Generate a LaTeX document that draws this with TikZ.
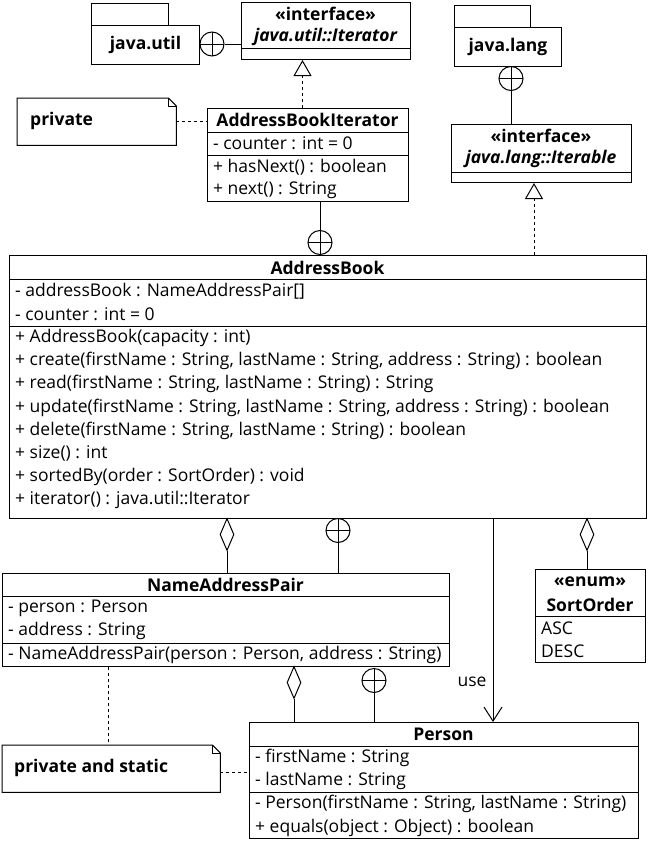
\documentclass[tikz,border=0pt]{standalone}
\usepackage{fontspec}
\setmainfont{Open Sans}
\usetikzlibrary{shapes.geometric, arrows.meta}

\tikzstyle{classbox} = [draw=black, line width=1pt, inner sep=0pt, anchor=north west]
\tikzstyle{member} = [anchor=west, inner sep=0pt, font=\fontsize{17.5}{20}\selectfont]
\tikzstyle{title} = [inner sep=0pt, font=\fontsize{17.5}{20}\selectfont\bfseries]
\tikzstyle{ititle} = [inner sep=0pt, font=\fontsize{17.5}{20}\selectfont\bfseries\itshape]
\tikzstyle{line} = [line width=1pt]
\tikzstyle{nest} = [circle, draw, line width=1pt, fill=white, inner sep=0pt,
                    minimum size=24pt,
                    path picture={\draw[line width=1pt]
                      (path picture bounding box.north) -- (path picture bounding box.south)
                      (path picture bounding box.west) -- (path picture bounding box.east);}]
\tikzstyle{aggr} = [diamond, draw, line width=1pt, fill=white, inner sep=0pt,
                    minimum width=14pt, minimum height=32pt, anchor=north]
\tikzstyle{realize} = [line width=1pt, dashed, -{Triangle[open, length=16pt, width=18pt]}]
\tikzstyle{use} = [line width=1pt, -{Straight Barb[length=14pt, width=18pt]}]
\tikzstyle{notebox} = [inner sep=0pt, anchor=north west]

\begin{document}
\begin{tikzpicture}[x=1pt, y=-1pt]
    \useasboundingbox (0,0) rectangle (648,841);

    %java.util package
    \node (util-tab) [classbox, minimum width=77pt, minimum height=22pt] at (91,3) {};
    \node (util) [classbox, minimum width=108pt, minimum height=39pt] at (91,25) {};
    \node (util-t) [title] at (util.center) {java.util};

    %Iterator interface
    \node (itr) [classbox, minimum width=169pt, minimum height=57pt] at (241,2) {};
    \node (itr-s) [title] at (325.5,14) {«interface»};
    \node (itr-t) [ititle] at (325.5,37) {java.util::Iterator};
    \draw [line] (241,48) -- (410,48);

    \node (nest1) [nest] at (212,44) {};
    \draw [line] (nest1.east) -- (itr.west |- nest1.east);

    %note private
    \node (note1) [notebox, minimum width=159pt, minimum height=47pt] at (17,98) {};
    \draw [line] (note1.north west) -- ([xshift=-8pt]note1.north east) -- ([yshift=-8pt]note1.north east)
        -- (note1.south east) -- (note1.south west) -- cycle;
    \draw [line] ([xshift=-8pt]note1.north east) -- ([xshift=-8pt, yshift=-8pt]note1.north east)
        -- ([yshift=-8pt]note1.north east);
    \node (note1-t) [title, anchor=west] at (30,121) {private};

    %AddressBookIterator
    \node (iter) [classbox, minimum width=201pt, minimum height=93pt] at (207,108) {};
    \node (iter-t) [title] at (307.5,120) {AddressBookIterator};
    \draw [line] (207,132) -- (408,132);
    \draw [line] (207,155) -- (408,155);
    \node (iter-a1) [member] at (213,143) {- counter : int = 0};
    \node (iter-m1) [member] at (213,167) {+ hasNext() : boolean};
    \node (iter-m2) [member] at (213,190) {+ next() : String};

    \draw [line, dashed] (note1.east |- 0,121) -- (iter.west |- 0,121);
    \draw [realize] ([xshift=-5.5pt]iter.north) -- ([xshift=-5.5pt]iter.north |- itr.south);

    %java.lang package
    \node (lang-tab) [classbox, minimum width=76pt, minimum height=22pt] at (454,5) {};
    \node (lang) [classbox, minimum width=107pt, minimum height=39pt] at (454,27) {};
    \node (lang-t) [title] at (lang.center) {java.lang};

    %Iterable interface
    \node (itb) [classbox, minimum width=180pt, minimum height=58pt] at (451,124) {};
    \node (itb-s) [title] at (541,136) {«interface»};
    \node (itb-t) [ititle] at (541,159) {java.lang::Iterable};
    \draw [line] (451,172) -- (631,172);

    \node (nest3) [nest, anchor=north] at (511,66) {};
    \draw [line] (nest3.south) -- (nest3.south |- itb.north);

    %AddressBook
    \node (book) [classbox, minimum width=637pt, minimum height=263pt] at (9,255) {};
    \node (book-t) [title] at (327.5,268) {AddressBook};
    \draw [line] (9,279) -- (646,279);
    \draw [line] (9,326) -- (646,326);
    \node (book-a1) [member] at (15,291) {- addressBook : NameAddressPair[]};
    \node (book-a2) [member] at (15,314) {- counter : int = 0};
    \node (book-m1) [member] at (15,338) {+ AddressBook(capacity : int)};
    \node (book-m2) [member] at (15,361) {+ create(firstName : String, lastName : String, address : String) : boolean};
    \node (book-m3) [member] at (15,384) {+ read(firstName : String, lastName : String) : String};
    \node (book-m4) [member] at (15,408) {+ update(firstName : String, lastName : String, address : String) : boolean};
    \node (book-m5) [member] at (15,431) {+ delete(firstName : String, lastName : String) : boolean};
    \node (book-m6) [member] at (15,453) {+ size() : int};
    \node (book-m7) [member] at (15,477) {+ sortedBy(order : SortOrder) : void};
    \node (book-m8) [member] at (15,500) {+ iterator() : java.util::Iterator};

    \node (nest2) [nest, anchor=south] at (320,255) {};
    \draw [line] (nest2.north) -- (nest2.north |- iter.south);
    \draw [realize] (book.north -| 534,0) -- (itb.south -| 534,0);

    %NameAddressPair
    \node (nap) [classbox, minimum width=447pt, minimum height=93pt] at (2,573) {};
    \node (nap-t) [title] at (225.5,585) {NameAddressPair};
    \draw [line] (2,596) -- (449,596);
    \draw [line] (2,643) -- (449,643);
    \node (nap-a1) [member] at (8,608) {- person : Person};
    \node (nap-a2) [member] at (8,631) {- address : String};
    \node (nap-m1) [member] at (8,655) {- NameAddressPair(person : Person, address : String)};

    \node (aggr1) [aggr] at (227,518) {};
    \draw [line] (aggr1.south) -- (aggr1.south |- nap.north);
    \node (nest4) [nest, anchor=north] at (338,518) {};
    \draw [line] (nest4.south) -- (nest4.south |- nap.north);

    %SortOrder
    \node (sort) [classbox, minimum width=110pt, minimum height=93pt] at (535,569) {};
    \node (sort-s) [title] at (590,582) {«enum»};
    \node (sort-t) [title] at (590,605) {SortOrder};
    \draw [line] (535,616) -- (645,616);
    \node (sort-v1) [member] at (541,628) {ASC};
    \node (sort-v2) [member] at (541,651) {DESC};

    \node (aggr2) [aggr] at (587,518) {};
    \draw [line] (aggr2.south) -- (aggr2.south |- sort.north);

    %Person
    \node (person) [classbox, minimum width=389pt, minimum height=116pt] at (249,722) {};
    \node (person-t) [title] at (443.5,734) {Person};
    \draw [line] (249,746) -- (638,746);
    \draw [line] (249,792) -- (638,792);
    \node (person-a1) [member] at (255,758) {- firstName : String};
    \node (person-a2) [member] at (255,781) {- lastName : String};
    \node (person-m1) [member] at (255,804) {- Person(firstName : String, lastName : String)};
    \node (person-m2) [member] at (255,828) {+ equals(object : Object) : boolean};

    \node (aggr3) [aggr] at (294,666) {};
    \draw [line] (aggr3.south) -- (aggr3.south |- person.north);
    \node (nest5) [nest, anchor=north] at (374,668) {};
    \draw [line] (nest5.south) -- (nest5.south |- person.north);

    \draw [use] (book.south -| 493,0) -- node (use-l) [member, anchor=east, pos=0.8, xshift=-6pt] {use} (person.north -| 493,0);

    %note private and static
    \node (note2) [notebox, minimum width=218pt, minimum height=47pt] at (2,745) {};
    \draw [line] (note2.north west) -- ([xshift=-8pt]note2.north east) -- ([yshift=-8pt]note2.north east)
        -- (note2.south east) -- (note2.south west) -- cycle;
    \draw [line] ([xshift=-8pt]note2.north east) -- ([xshift=-8pt, yshift=-8pt]note2.north east)
        -- ([yshift=-8pt]note2.north east);
    \node (note2-t) [title, anchor=west] at (14,768) {private and static};

    \draw [line, dashed] (nap.south -| 108,0) -- (note2.north -| 108,0);
    \draw [line, dashed] (note2.east |- 0,772) -- (person.west |- 0,772);

\end{tikzpicture}
\end{document}
